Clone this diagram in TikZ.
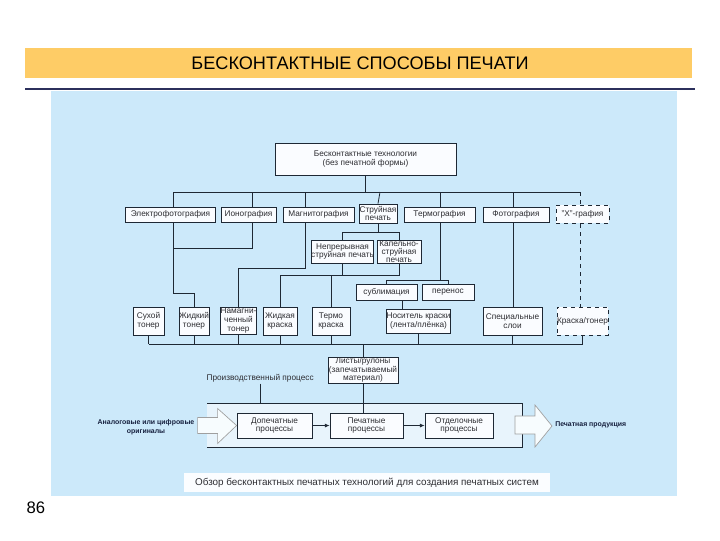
\documentclass[tikz,border=0pt]{standalone}
\usepackage{fontspec}
\setmainfont{Liberation Sans}
\usetikzlibrary{arrows.meta, positioning, calc}

\definecolor{bandorange}{RGB}{254,204,102}
\definecolor{panelblue}{RGB}{204,233,250}
\definecolor{navyline}{RGB}{44,48,92}
\definecolor{boxfill}{RGB}{250,252,255}
\definecolor{framefill}{RGB}{232,244,252}
\definecolor{wire}{RGB}{30,40,52}
\definecolor{txt}{RGB}{45,45,50}
\definecolor{arrowtext}{RGB}{22,32,62}

\pgfdeclarelayer{back}
\pgfdeclarelayer{wires}
\pgfsetlayers{back,wires,main}

\tikzset{
  box/.style={draw=wire, fill=boxfill, line width=0.6pt, inner sep=0pt, align=center,
    font=\fontsize{6.2}{6.6}\selectfont, text=txt},
  dashbox/.style={box, dashed},
  sz/.style 2 args={minimum width={#1*0.75pt}, minimum height={#2*0.75pt}},
  link/.style={draw=wire, line width=0.6pt},
  dashlink/.style={link, dashed},
  flow/.style={link, -{Latex[length=3.5pt,width=3pt]}},
  bigarrow/.style={draw=gray!75, fill=white!85!panelblue, line width=0.5pt},
  srctext/.style={font=\bfseries\fontsize{5.2}{7}\selectfont, text=arrowtext, align=center, inner sep=0pt},
}

\begin{document}
\begin{tikzpicture}[x=0.75pt, y=-0.75pt]
  \useasboundingbox (0,0) rectangle (720,540);

  % ---------- Page ----------
  \begin{pgfonlayer}{back}
    \fill[bandorange] (25,48) rectangle (692,78);
    \draw[navyline, line width=1.5pt] (25,89) -- (695,89);
    \fill[panelblue] (51,91) rectangle (677,496);
    \coordinate (frameNW) at (207,403);
    \coordinate (frameSE) at (522,447);
    \fill[framefill] (frameNW) rectangle (frameSE);
  \end{pgfonlayer}
  \node[font=\fontsize{13.6}{15}\selectfont] (title) at (360,63) {БЕСКОНТАКТНЫЕ СПОСОБЫ ПЕЧАТИ};
  \node[font=\fontsize{12.5}{14}\selectfont] (pageno) at (36,508) {86};

  % ---------- Technologies ----------
  \node[box, sz={181}{32}] (tech) at (365.5,159) {Бесконтактные технологии\\(без печатной формы)};
  \node[box, sz={90}{15}] (ef) at (170.5,214.5) {Электрофотография};
  \node[box, sz={55}{15}] (ion) at (248.5,214.5) {Ионография};
  \node[box, sz={71}{15}] (mag) at (318.5,214.5) {Магнитография};
  \node[box, sz={38}{19}] (ink) at (378,213.5) {Струйная\\печать};
  \node[box, sz={71}{15}] (thermo) at (439.5,214.5) {Термография};
  \node[box, sz={66}{15}] (photo) at (516,214.5) {Фотография};
  \node[dashbox, sz={53}{18}] (xgr) at (582.5,214) {"Х"-графия};

  % ---------- Ink jet / thermal sub-types ----------
  \node[box, sz={59}{23}] (cij) at (342.5,251.5) {Непрерывная\\струйная печать};
  \node[box, sz={44}{23}, font=\fontsize{6.2}{6}\selectfont] (dod) at (399,251.5) {Капельно-\\струйная\\печать};
  \node[box, sz={61}{16}] (subl) at (386.5,292) {сублимация};
  \node[box, sz={52}{16}] (trans) at (448,292) {перенос};

  % ---------- Inks and toners ----------
  \node[box, sz={31}{28}] (drytoner) at (148.5,321) {Сухой\\тонер};
  \node[box, sz={30}{28}] (liqtoner) at (194,321) {Жидкий\\тонер};
  \node[box, sz={35}{27}, font=\fontsize{6.2}{6.4}\selectfont] (magtoner) at (238.5,320.5) {Намагни-\\ченный\\тонер};
  \node[box, sz={34}{28}] (liqink) at (280,321) {Жидкая\\краска};
  \node[box, sz={38}{28}] (hotink) at (331,321) {Термо\\краска};
  \node[box, sz={63}{24}] (carrier) at (418.5,321) {Носитель краски\\(лента/плёнка)};
  \node[box, sz={59}{28}] (special) at (512.5,321) {Специальные\\слои};
  \node[dashbox, sz={49}{28}] (inktoner) at (582.5,321) {Краска/тонер};

  % ---------- Substrate and production ----------
  \node[box, sz={70}{26}] (substrate) at (363,370) {Листы/рулоны\\(запечатываемый\\материал)};
  \node[font=\fontsize{6.2}{7}\selectfont, text=txt, anchor=west, inner sep=1pt] (prodlabel) at (205,378) {Производственный процесс};
  \node[box, sz={75}{25}] (prepress) at (274.5,425.5) {Допечатные\\процессы};
  \node[box, sz={73}{25}] (press) at (366.5,425.5) {Печатные\\процессы};
  \node[box, sz={68}{25}] (post) at (459,425.5) {Отделочные\\процессы};
  \node[srctext] (source) at (146,427) {Аналоговые или цифровые\\оригиналы};
  \node[srctext, anchor=west] (output) at (555,425) {Печатная продукция};
  \node[box, draw=none, fill=white!92!panelblue, sz={366}{19}, font=\fontsize{7.4}{8}\selectfont] (caption) at (367,482.5)
    {Обзор бесконтактных печатных технологий для создания печатных систем};

  % ---------- Connectors ----------
  \coordinate (dEF) at (173,192);
  \coordinate (dION) at (252,192);
  \coordinate (dMAG) at (305,192);
  \coordinate (dINK) at (380,192);
  \coordinate (dTH) at (440,192);
  \coordinate (dPH) at (513,192);
  \coordinate (dX) at (580,192);
  \coordinate (yEI) at (0,248);
  \coordinate (yMag) at (0,268);
  \coordinate (yInk) at (0,232);
  \coordinate (yJet) at (0,275);
  \coordinate (yTh) at (0,280);
  \coordinate (yToner) at (0,293);
  \coordinate (busLow) at (0,344);
  \coordinate (sublMid) at ($(subl.south)!.5!(carrier.north)$);

  \begin{pgfonlayer}{wires}
    \draw[link] (tech.south) -- (tech.south |- dEF);
    \draw[link] (dEF) -- (dX);
    \draw[link] (dEF) -- (dEF |- yToner) -| (liqtoner.north);
    \draw[link] (dION) -- (dION |- yEI) -- (dEF |- yEI);
    \draw[link] (dMAG) -- (dMAG |- yMag) -| (magtoner.north);
    \draw[link] (dINK) -- (ink.north);
    \draw[link] (ink.south) -- (ink.south |- yInk);
    \draw[link] (cij.north) |- (dod.north |- yInk) -- (dod.north);
    \draw[link] (dod.south) |- (liqink.north |- yJet) -- (liqink.north);
    \draw[link] (cij.south) -- (cij.south |- yJet);
    \draw[link] (hotink.north) -- (hotink.north |- yJet);
    \draw[link] (dTH) -- (dTH |- yTh);
    \draw[link] (subl.north) |- (trans.north |- yTh) -- (trans.north);
    \draw[link] (sublMid |- subl.south) -- (sublMid |- carrier.north);
    \draw[link] (dPH) -- (dPH |- special.north);
    \draw[dashlink] (dX) -- (dX |- inktoner.north);
    % bottom bus
    \draw[link] (drytoner.south |- busLow) -- (inktoner.south |- busLow);
    \foreach \n in {drytoner, liqtoner, magtoner, liqink, hotink, carrier, special, inktoner}
      \draw[link] (\n.south) -- (\n.south |- busLow);
    \draw[link] (substrate.north |- busLow) -- (substrate.north);
    \draw[link] (substrate.south) -- (substrate.south |- press.north);
    \draw[link] (prodlabel.south) -- (prodlabel.south |- frameNW);
    % production frame
    \draw[link] (frameNW) -| (frameSE) -- (frameNW |- frameSE);
  \end{pgfonlayer}

  \draw[flow] (prepress) -- (press);
  \draw[flow] (press) -- (post);

  % ---------- Hollow arrows ----------
  \draw[bigarrow] (prepress.west) -- ++(-19,-17) -- ++(0,9) -- ++(-20,0) -- ++(0,16)
    -- ++(20,0) -- ++(0,10) -- cycle;
  \coordinate (outTip) at (552,426);
  \draw[bigarrow] (outTip) -- ++(-17,-21) -- ++(0,11) -- ++(-20,0) -- ++(0,18)
    -- ++(20,0) -- ++(0,13) -- cycle;

\end{tikzpicture}
\end{document}
